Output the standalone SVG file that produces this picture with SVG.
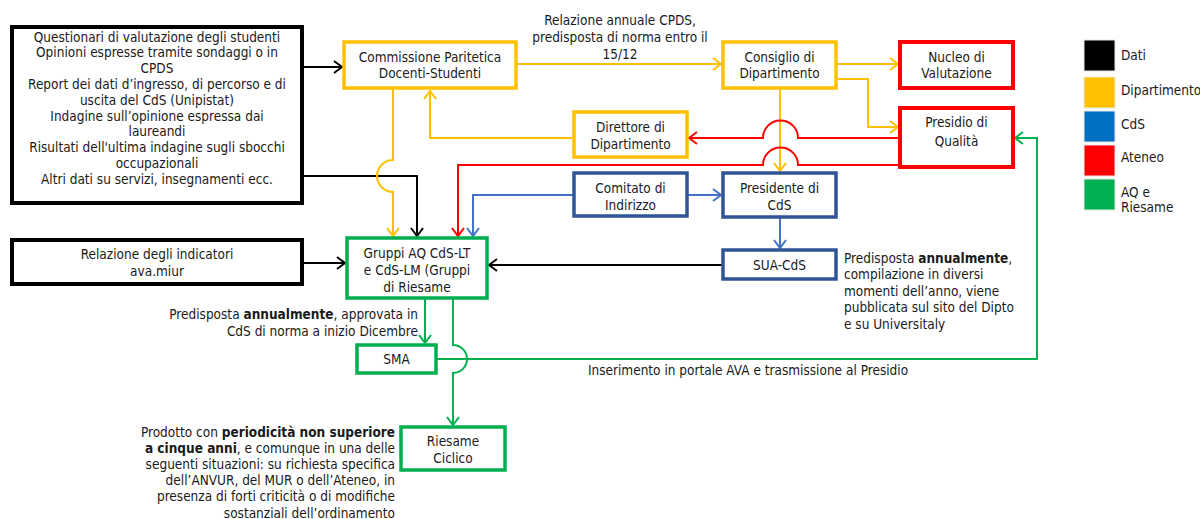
<svg xmlns="http://www.w3.org/2000/svg" width="1200" height="519" viewBox="0 0 1200 519">
<style>
text{font-family:"DejaVu Sans Condensed","DejaVu Sans",sans-serif;font-stretch:condensed;font-size:13.5px;fill:#1a1a1a}
.c{text-anchor:middle}
.r{text-anchor:end}
.b{font-weight:bold}
.nk{fill:#fff;stroke:#000;stroke-width:4}
.ny{fill:#fff;stroke:#FFC000;stroke-width:3.5}
.nr{fill:#fff;stroke:#FF0000;stroke-width:4}
.nb{fill:#fff;stroke:#2F5597;stroke-width:3.5}
.ng{fill:#fff;stroke:#00B050;stroke-width:3.5}
.ck{fill:none;stroke:#000;stroke-width:2;marker-end:url(#aK)}
.cy{fill:none;stroke:#FFC000;stroke-width:2;marker-end:url(#aY)}
.cr{fill:none;stroke:#FF0000;stroke-width:2;marker-end:url(#aR)}
.cb{fill:none;stroke:#4472C4;stroke-width:2;marker-end:url(#aB)}
.cg{fill:none;stroke:#00B050;stroke-width:2;marker-end:url(#aG)}
.lg{stroke:#e8e8e8;stroke-width:1}
</style>
<defs>
<marker id="aK" markerUnits="userSpaceOnUse" markerWidth="12" markerHeight="14" viewBox="0 0 12 14" refX="10" refY="7" orient="auto"><path d="M2,1 L10,7 L2,13" fill="none" stroke="#000" stroke-width="2"/></marker>
<marker id="aY" markerUnits="userSpaceOnUse" markerWidth="12" markerHeight="14" viewBox="0 0 12 14" refX="10" refY="7" orient="auto"><path d="M2,1 L10,7 L2,13" fill="none" stroke="#FFC000" stroke-width="2"/></marker>
<marker id="aR" markerUnits="userSpaceOnUse" markerWidth="12" markerHeight="14" viewBox="0 0 12 14" refX="10" refY="7" orient="auto"><path d="M2,1 L10,7 L2,13" fill="none" stroke="#FF0000" stroke-width="2"/></marker>
<marker id="aB" markerUnits="userSpaceOnUse" markerWidth="12" markerHeight="14" viewBox="0 0 12 14" refX="10" refY="7" orient="auto"><path d="M2,1 L10,7 L2,13" fill="none" stroke="#4472C4" stroke-width="2"/></marker>
<marker id="aG" markerUnits="userSpaceOnUse" markerWidth="12" markerHeight="14" viewBox="0 0 12 14" refX="10" refY="7" orient="auto"><path d="M2,1 L10,7 L2,13" fill="none" stroke="#00B050" stroke-width="2"/></marker>
</defs>
<rect width="1200" height="519" fill="#fff"/>
<g id="connectors">
<path class="ck" d="M302,67 H342"/>
<path class="ck" d="M302,176 H417 V236"/>
<path class="ck" d="M302,263 H345"/>
<path class="ck" d="M723,265 H489"/>
<path class="cy" d="M516,64 H721"/>
<path class="cy" d="M836,64 H898"/>
<path class="cy" d="M836,79 H868 V127 H898"/>
<path class="cy" d="M780,88 V171"/>
<path class="cy" d="M574,138 H430 V91"/>
<path class="cy" d="M393,89 V160 A16,16 0 0 0 393,192 V236"/>
<path class="cr" d="M900,138 H798 A17.5,17.5 0 0 0 763,138 H689"/>
<path class="cr" d="M900,165 H798 A17.5,17.5 0 0 0 763,165 H458 V236"/>
<path class="cb" d="M687,195 H721"/>
<path class="cb" d="M574,195 H473 V236"/>
<path class="cb" d="M780,217 V248"/>
<path class="cg" d="M425,298 V343"/>
<path class="cg" d="M453,298 V345 A14,14 0 0 1 453,373 V425"/>
<path class="cg" d="M436,359 H1037 V138 H1015"/>
</g>
<g id="n-dati">
<rect class="nk" x="12" y="27" width="290" height="176"/>
<text class="c" x="157" y="41.5">Questionari di valutazione degli studenti</text>
<text class="c" x="157" y="57.3">Opinioni espresse tramite sondaggi o in</text>
<text class="c" x="157" y="73.1">CPDS</text>
<text class="c" x="157" y="88.9">Report dei dati d’ingresso, di percorso e di</text>
<text class="c" x="157" y="104.7">uscita del CdS (Unipistat)</text>
<text class="c" x="157" y="120.5">Indagine sull’opinione espressa dai</text>
<text class="c" x="157" y="136.3">laureandi</text>
<text class="c" x="157" y="152.1">Risultati dell'ultima indagine sugli sbocchi</text>
<text class="c" x="157" y="167.9">occupazionali</text>
<text class="c" x="157" y="183.7">Altri dati su servizi, insegnamenti ecc.</text>
</g>
<g id="n-cpds">
<rect class="ny" x="344" y="42" width="172" height="46"/>
<text class="c" x="430" y="61.5">Commissione Paritetica</text>
<text class="c" x="430" y="78">Docenti-Studenti</text>
</g>
<g id="n-consiglio">
<rect class="ny" x="723" y="42" width="113" height="46"/>
<text class="c" x="779.5" y="61.5">Consiglio di</text>
<text class="c" x="779.5" y="78">Dipartimento</text>
</g>
<g id="n-nucleo">
<rect class="nr" x="900" y="42" width="113" height="46"/>
<text class="c" x="956.5" y="61.5">Nucleo di</text>
<text class="c" x="956.5" y="78">Valutazione</text>
</g>
<g id="n-presidio">
<rect class="nr" x="900" y="108" width="113" height="59"/>
<text class="c" x="956.5" y="126.5">Presidio di</text>
<text class="c" x="956.5" y="145.5">Qualità</text>
</g>
<g id="n-direttore">
<rect class="ny" x="574" y="112" width="113" height="45"/>
<text class="c" x="630.5" y="131.5">Direttore di</text>
<text class="c" x="630.5" y="148.5">Dipartimento</text>
</g>
<g id="n-comitato">
<rect class="nb" x="574" y="173" width="113" height="43"/>
<text class="c" x="630.5" y="192.5">Comitato di</text>
<text class="c" x="630.5" y="209.5">Indirizzo</text>
</g>
<g id="n-presidente">
<rect class="nb" x="723" y="173" width="113" height="44"/>
<text class="c" x="779.5" y="192.5">Presidente di</text>
<text class="c" x="779.5" y="209.5">CdS</text>
</g>
<g id="n-sua">
<rect class="nb" x="723" y="250" width="113" height="29"/>
<text class="c" x="779.5" y="269.5">SUA-CdS</text>
</g>
<g id="n-gruppi">
<rect class="ng" x="347" y="238" width="140" height="60"/>
<text class="c" x="417" y="257.5">Gruppi AQ CdS-LT</text>
<text class="c" x="417" y="274.5">e CdS-LM (Gruppi</text>
<text class="c" x="417" y="291.5">di Riesame</text>
</g>
<g id="n-relazione">
<rect class="nk" x="12" y="240" width="290" height="44"/>
<text class="c" x="157" y="258.5">Relazione degli indicatori</text>
<text class="c" x="157" y="275.5">ava.miur</text>
</g>
<g id="n-sma">
<rect class="ng" x="357" y="345" width="79" height="28"/>
<text class="c" x="396.5" y="363.5">SMA</text>
</g>
<g id="n-riesame">
<rect class="ng" x="401" y="427" width="104" height="43"/>
<text class="c" x="453" y="445.5">Riesame</text>
<text class="c" x="453" y="462.5">Ciclico</text>
</g>
<g id="labels">
<text class="c" x="620" y="24.5">Relazione annuale CPDS,</text>
<text class="c" x="620" y="41.5">predisposta di norma entro il</text>
<text class="c" x="620" y="58.5">15/12</text>
<text x="844" y="262.5">Predisposta <tspan class="b">annualmente</tspan>,</text>
<text x="844" y="279">compilazione in diversi</text>
<text x="844" y="295.5">momenti dell’anno, viene</text>
<text x="844" y="312">pubblicata sul sito del Dipto</text>
<text x="844" y="328.5">e su Universitaly</text>
<text class="r" x="418" y="318.5">Predisposta <tspan class="b">annualmente</tspan>, approvata in</text>
<text class="r" x="418" y="336">CdS di norma a inizio Dicembre</text>
<text class="c" x="748" y="374.5">Inserimento in portale AVA e trasmissione al Presidio</text>
<text class="r" x="395" y="436.5">Prodotto con <tspan class="b">periodicità non superiore</tspan></text>
<text class="r" x="395" y="452.7"><tspan class="b">a cinque anni</tspan>, e comunque in una delle</text>
<text class="r" x="395" y="468.9">seguenti situazioni: su richiesta specifica</text>
<text class="r" x="395" y="485.1">dell’ANVUR, del MUR o dell’Ateneo, in</text>
<text class="r" x="395" y="501.3">presenza di forti criticità o di modifiche</text>
<text class="r" x="395" y="517.5">sostanziali dell’ordinamento</text>
</g>
<g id="legend">
<rect class="lg" x="1084" y="40" width="31" height="31" fill="#000"/>
<rect class="lg" x="1084" y="77" width="31" height="31" fill="#FFC000"/>
<rect class="lg" x="1084" y="111" width="31" height="31" fill="#0070C0"/>
<rect class="lg" x="1084" y="145" width="31" height="31" fill="#FF0000"/>
<rect class="lg" x="1084" y="179" width="31" height="31" fill="#00B050"/>
<text x="1121" y="59.5">Dati</text>
<text x="1121" y="94.5">Dipartimento</text>
<text x="1121" y="128.5">CdS</text>
<text x="1121" y="161.5">Ateneo</text>
<text x="1121" y="196.5">AQ e</text>
<text x="1121" y="212">Riesame</text>
</g>
</svg>
